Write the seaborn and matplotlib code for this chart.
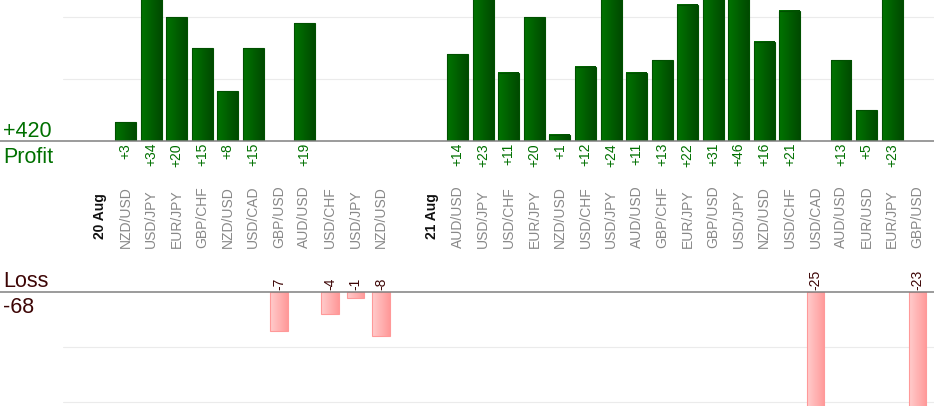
import numpy as np
import pandas as pd
import matplotlib
matplotlib.use('Agg')
import matplotlib.pyplot as plt
import matplotlib.transforms as mtransforms
from matplotlib.lines import Line2D
from matplotlib.colors import LinearSegmentedColormap
import seaborn as sns

# one slot per trade, day headers and an empty gap between days
labels = ['20 Aug', 'NZD/USD', 'USD/JPY', 'EUR/JPY', 'GBP/CHF', 'NZD/USD', 'USD/CAD',
          'GBP/USD', 'AUD/USD', 'USD/CHF', 'USD/JPY', 'NZD/USD', '',
          '21 Aug', 'AUD/USD', 'USD/JPY', 'USD/CHF', 'EUR/JPY', 'NZD/USD', 'USD/CHF',
          'USD/JPY', 'AUD/USD', 'GBP/CHF', 'EUR/JPY', 'GBP/USD', 'USD/JPY', 'NZD/USD',
          'USD/CHF', 'USD/CAD', 'AUD/USD', 'EUR/USD', 'EUR/JPY', 'GBP/USD']
results = [np.nan, 3, 34, 20, 15, 8, 15, -7, 19, -4, -1, -8, np.nan,
           np.nan, 14, 23, 11, 20, 1, 12, 24, 11, 13, 22, 31, 46, 16, 21, -25, 13, 5, 23, -23]
day_slots = [0, 13]

sns.set_style('white')
plt.rcParams['font.family'] = ['Liberation Sans', 'DejaVu Sans']

df = pd.DataFrame({'slot': range(len(labels)), 'label': labels, 'result': results})
gains = df[df['result'] > 0]
losses = df[df['result'] < 0]

W, H = 934, 420
fig = plt.figure(figsize=(W / 100, H / 100), dpi=100)


def fy(py):
    return 1 - py / H


x0 = 63 / W
ax_p = fig.add_axes([x0, fy(141), 1 - x0, 141 / H])
ax_l = fig.add_axes([x0, fy(406), 1 - x0, (406 - 292) / H])

sns.barplot(data=gains, x='slot', y='result', native_scale=True, width=0.82, errorbar=None,
            color='#006000', edgecolor='#005000', linewidth=0.8, ax=ax_p)
sns.barplot(data=losses, x='slot', y='result', native_scale=True, width=0.68, errorbar=None,
            color='#ffb3b3', edgecolor='#ff9999', linewidth=0.8, ax=ax_l)


def shade(ax, c1, c2):
    # left-to-right gradient fill laid under each bar outline
    grad = np.linspace(0, 1, 64).reshape(1, -1)
    cmap = LinearSegmentedColormap.from_list('grad', [c1, c2])
    for bar in ax.patches:
        x, y = bar.get_x(), bar.get_y()
        w, h = bar.get_width(), bar.get_height()
        ax.imshow(grad, cmap=cmap, aspect='auto', extent=[x, x + w, y, y + h],
                  zorder=2, interpolation='bilinear')
        bar.set_facecolor('none')
        bar.set_zorder(3)


shade(ax_p, '#007400', '#004a00')
shade(ax_l, '#ffcccc', '#ff9999')

for ax in (ax_p, ax_l):
    ax.set_xlim(-1.45, 32.64)
    ax.set_xlabel('')
    ax.set_ylabel('')
    ax.tick_params(left=False, bottom=False, labelleft=False, labelbottom=False)
    ax.grid(axis='y', color='#ebebeb', lw=0.8)
    ax.set_axisbelow(True)
    for s in ax.spines.values():
        s.set_visible(False)

ax_p.set_ylim(0, 141 / 6.2)
ax_p.set_yticks([10, 20])
ax_l.set_ylim(-114 / 5.5, 0)
ax_l.set_yticks([-10, -20])

# baselines across the full width
for py in (141, 292):
    fig.add_artist(Line2D([0, 1], [fy(py), fy(py)], transform=fig.transFigure,
                          color='#808080', lw=1.1))

trans = mtransforms.blended_transform_factory(ax_p.transData, fig.transFigure)
green = '#007000'
brown = '#3d0505'

for _, r in gains.iterrows():
    fig.text(r['slot'], fy(143), f"+{int(r['result'])}", rotation=90, ha='center', va='top',
             color=green, fontsize=10, transform=trans)
for _, r in losses.iterrows():
    fig.text(r['slot'], fy(290), f"{int(r['result'])}", rotation=90, ha='center', va='bottom',
             color=brown, fontsize=10, transform=trans)

for i, lab in enumerate(labels):
    if not lab:
        continue
    if i in day_slots:
        fig.text(i, fy(239), lab, rotation=90, ha='center', va='bottom', color='#111111',
                 fontsize=10, fontweight='bold', transform=trans)
    else:
        fig.text(i, fy(248), lab, rotation=90, ha='center', va='bottom', color='#888888',
                 fontsize=10, transform=trans)

total_gain = int(gains['result'].sum())
total_loss = int(losses['result'].sum())
fig.text(3 / W, fy(137), f'+{total_gain}', fontsize=15.5, color=green, va='baseline')
fig.text(3 / W, fy(163), 'Profit', fontsize=15.5, color=green, va='baseline')
fig.text(3 / W, fy(287), 'Loss', fontsize=15.5, color=brown, va='baseline')
fig.text(3 / W, fy(313), f'{total_loss}', fontsize=15.5, color=brown, va='baseline')

fig.savefig('out.png', dpi=100)
